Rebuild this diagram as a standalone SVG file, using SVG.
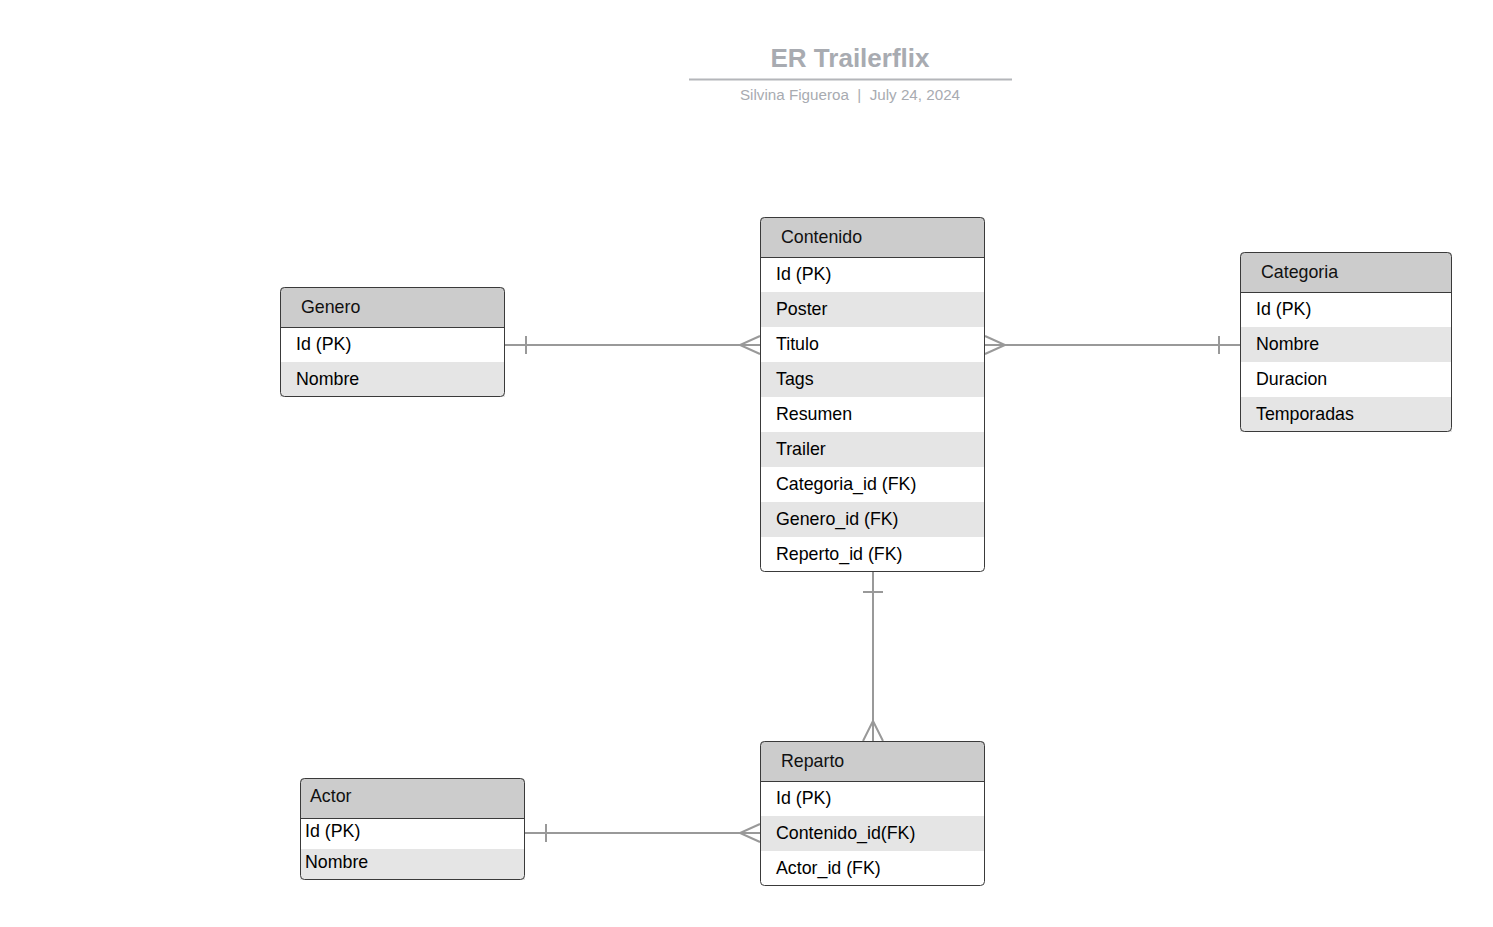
<svg xmlns="http://www.w3.org/2000/svg" width="1493" height="927" viewBox="0 0 1493 927">
<style>
.bg{fill:#ffffff}
.hdr{fill:#cccccc}
.alt{fill:#e5e5e5}
.frame{fill:none;stroke:#3a3a3a;stroke-width:1}
.sep{stroke:#3a3a3a;stroke-width:1}
.t{font-family:"Liberation Sans",Arial,sans-serif;font-size:17.8px;fill:#000000}
.ht{font-family:"Liberation Sans",Arial,sans-serif;font-size:17.8px;fill:#111111}
.c{fill:none;stroke:#999999;stroke-width:2}
.title{font-family:"Liberation Sans",Arial,sans-serif;font-size:26px;font-weight:bold;fill:#a8abb1}
.sub{font-family:"Liberation Sans",Arial,sans-serif;font-size:15.2px;fill:#a8abb1;white-space:pre}
</style>
<rect x="0" y="0" width="1493" height="927" fill="#ffffff"/>
<g id="title">
<text class="title" x="850" y="67" text-anchor="middle">ER Trailerflix</text>
<line x1="689" y1="79.5" x2="1012" y2="79.5" stroke="#b4b6ba" stroke-width="2"/>
<text class="sub" x="850" y="100" text-anchor="middle" xml:space="preserve">Silvina Figueroa  |  July 24, 2024</text>
</g>
<g id="connectors">
<line class="c" x1="505" y1="345" x2="760" y2="345"/>
<line class="c" x1="526" y1="336" x2="526" y2="354"/>
<path class="c" d="M760,336 L740,345 L760,354"/>
<line class="c" x1="985" y1="345" x2="1240" y2="345"/>
<line class="c" x1="1219" y1="336" x2="1219" y2="354"/>
<path class="c" d="M985,336 L1005,345 L985,354"/>
<line class="c" x1="873" y1="572" x2="873" y2="741"/>
<line class="c" x1="863" y1="592" x2="883" y2="592"/>
<path class="c" d="M863,741 L873,721 L883,741"/>
<line class="c" x1="525" y1="833" x2="760" y2="833"/>
<line class="c" x1="546" y1="824" x2="546" y2="842"/>
<path class="c" d="M760,824 L740,833 L760,842"/>
</g>
<g id="contenido">
<rect class="bg" x="760" y="217" width="225" height="355" rx="4"/>
<path class="hdr" d="M764,217 H981 A4,4 0 0 1 985,221 V257 H760 V221 A4,4 0 0 1 764,217 Z"/>
<rect class="alt" x="760" y="292" width="225" height="35"/>
<rect class="alt" x="760" y="362" width="225" height="35"/>
<rect class="alt" x="760" y="432" width="225" height="35"/>
<rect class="alt" x="760" y="502" width="225" height="35"/>
<line class="sep" x1="760" y1="257.5" x2="985" y2="257.5"/>
<rect class="frame" x="760.5" y="217.5" width="224" height="354" rx="4"/>
<text class="ht" x="781" y="243">Contenido</text>
<text class="t" x="776" y="280">Id (PK)</text>
<text class="t" x="776" y="315">Poster</text>
<text class="t" x="776" y="350">Titulo</text>
<text class="t" x="776" y="385">Tags</text>
<text class="t" x="776" y="420">Resumen</text>
<text class="t" x="776" y="455">Trailer</text>
<text class="t" x="776" y="490">Categoria_id (FK)</text>
<text class="t" x="776" y="525">Genero_id (FK)</text>
<text class="t" x="776" y="560">Reperto_id (FK)</text>
</g>
<g id="genero">
<rect class="bg" x="280" y="287" width="225" height="110" rx="4"/>
<path class="hdr" d="M284,287 H501 A4,4 0 0 1 505,291 V327 H280 V291 A4,4 0 0 1 284,287 Z"/>
<rect class="alt" x="280" y="362" width="225" height="35"/>
<line class="sep" x1="280" y1="327.5" x2="505" y2="327.5"/>
<rect class="frame" x="280.5" y="287.5" width="224" height="109" rx="4"/>
<text class="ht" x="301" y="313">Genero</text>
<text class="t" x="296" y="350">Id (PK)</text>
<text class="t" x="296" y="385">Nombre</text>
</g>
<g id="categoria">
<rect class="bg" x="1240" y="252" width="212" height="180" rx="4"/>
<path class="hdr" d="M1244,252 H1448 A4,4 0 0 1 1452,256 V292 H1240 V256 A4,4 0 0 1 1244,252 Z"/>
<rect class="alt" x="1240" y="327" width="212" height="35"/>
<rect class="alt" x="1240" y="397" width="212" height="35"/>
<line class="sep" x1="1240" y1="292.5" x2="1452" y2="292.5"/>
<rect class="frame" x="1240.5" y="252.5" width="211" height="179" rx="4"/>
<text class="ht" x="1261" y="278">Categoria</text>
<text class="t" x="1256" y="315">Id (PK)</text>
<text class="t" x="1256" y="350">Nombre</text>
<text class="t" x="1256" y="385">Duracion</text>
<text class="t" x="1256" y="420">Temporadas</text>
</g>
<g id="reparto">
<rect class="bg" x="760" y="741" width="225" height="145" rx="4"/>
<path class="hdr" d="M764,741 H981 A4,4 0 0 1 985,745 V781 H760 V745 A4,4 0 0 1 764,741 Z"/>
<rect class="alt" x="760" y="816" width="225" height="35"/>
<line class="sep" x1="760" y1="781.5" x2="985" y2="781.5"/>
<rect class="frame" x="760.5" y="741.5" width="224" height="144" rx="4"/>
<text class="ht" x="781" y="767">Reparto</text>
<text class="t" x="776" y="804">Id (PK)</text>
<text class="t" x="776" y="839">Contenido_id(FK)</text>
<text class="t" x="776" y="874">Actor_id (FK)</text>
</g>
<g id="actor">
<rect class="bg" x="300" y="778" width="225" height="102" rx="4"/>
<path class="hdr" d="M304,778 H521 A4,4 0 0 1 525,782 V818 H300 V782 A4,4 0 0 1 304,778 Z"/>
<rect class="alt" x="300" y="849" width="225" height="31"/>
<line class="sep" x1="300" y1="818.5" x2="525" y2="818.5"/>
<rect class="frame" x="300.5" y="778.5" width="224" height="101" rx="4"/>
<text class="ht" x="310" y="802">Actor</text>
<text class="t" x="305" y="837">Id (PK)</text>
<text class="t" x="305" y="868">Nombre</text>
</g>
</svg>
